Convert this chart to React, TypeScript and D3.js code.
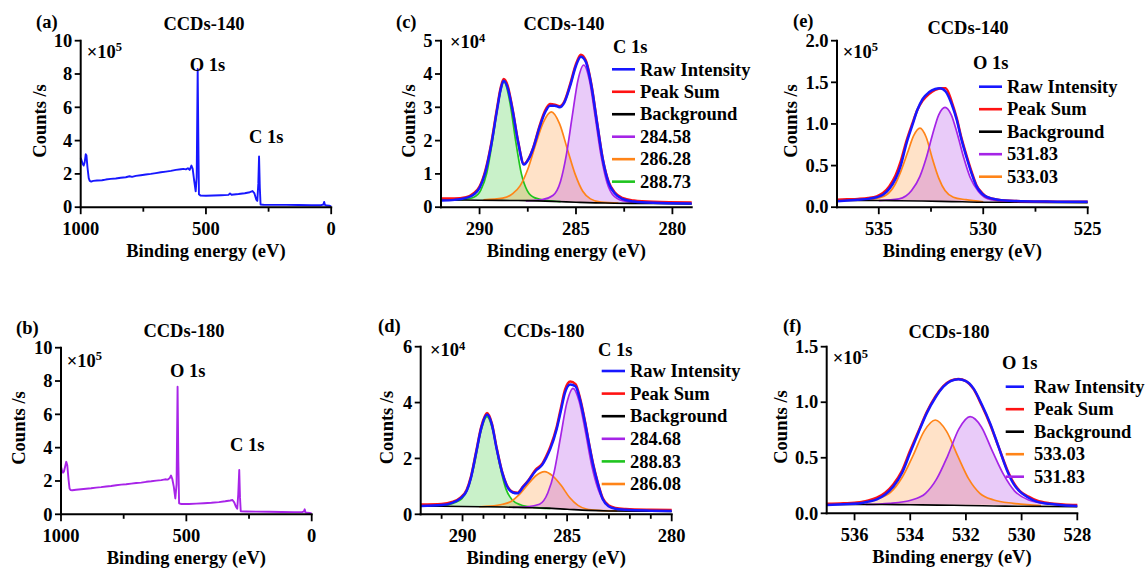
import React from "react";
import * as d3 from "d3";

type Pt = [number, number];

// ---------------- DATA ----------------
// (a) survey CCDs-140, counts ×10^5
const survey140: Pt[] = [
  [1000, 2.96], [996, 2.78], [992, 2.6], [988, 2.5], [984, 2.7], [980, 3.18], [977, 3.1], [973, 2.4],
  [968, 1.75], [964, 1.58], [958, 1.54], [950, 1.58], [935, 1.6], [915, 1.62], [900, 1.66], [880, 1.7],
  [860, 1.72], [840, 1.77], [820, 1.8], [805, 1.86], [795, 1.82], [780, 1.88], [760, 1.92], [740, 1.96],
  [720, 2.0], [700, 2.05], [680, 2.1], [660, 2.14], [640, 2.18], [620, 2.24], [600, 2.28], [590, 2.3],
  [580, 2.27], [572, 2.34], [565, 2.24], [558, 2.5], [553, 2.3], [547, 1.6], [541, 0.95], [537, 1.8],
  [533, 8.3], [530, 3.5], [528, 0.78], [522, 0.7], [500, 0.69], [470, 0.7], [440, 0.72], [410, 0.74],
  [404, 0.83], [398, 0.75], [370, 0.79], [345, 0.84], [325, 0.9], [314, 0.97], [307, 0.85], [299, 0.45],
  [295, 0.38], [291, 1.4], [288, 3.05], [285, 1.2], [282, 0.16], [270, 0.15], [230, 0.14], [180, 0.14],
  [130, 0.13], [80, 0.12], [40, 0.12], [31, 0.16], [28, 0.32], [25, 0.14], [18, 0.1], [8, 0.09], [0, 0.05],
];
// (b) survey CCDs-180, counts ×10^5
const survey180: Pt[] = [
  [1000, 2.86], [996, 2.62], [992, 2.5], [988, 2.58], [983, 2.9], [979, 3.15], [975, 2.95], [970, 2.1],
  [966, 1.55], [962, 1.46], [955, 1.44], [940, 1.47], [920, 1.5], [900, 1.53], [880, 1.56], [860, 1.6],
  [840, 1.63], [820, 1.67], [800, 1.7], [780, 1.74], [760, 1.78], [740, 1.8], [720, 1.84], [700, 1.88],
  [680, 1.9], [660, 1.95], [640, 1.98], [620, 2.02], [600, 2.05], [585, 2.1], [575, 2.08], [566, 2.18],
  [561, 2.33], [556, 2.12], [550, 1.65], [544, 0.95], [539, 1.8], [535, 7.66], [532, 3.2], [529, 0.66],
  [520, 0.62], [490, 0.62], [460, 0.64], [430, 0.66], [400, 0.69], [370, 0.73], [345, 0.78], [325, 0.83],
  [316, 0.86], [309, 0.72], [302, 0.45], [297, 0.33], [293, 1.2], [289, 2.66], [286, 1.0], [283, 0.18],
  [260, 0.17], [220, 0.16], [170, 0.15], [120, 0.14], [70, 0.13], [38, 0.13], [31, 0.17], [28, 0.3],
  [25, 0.12], [18, 0.09], [8, 0.08], [0, 0.04],
];

// (c) C 1s CCDs-140, counts ×10^4
const c140Raw: Pt[] = [
  [292, 0.2], [291.3, 0.22], [290.7, 0.28], [290.3, 0.38], [290.0, 0.58], [289.7, 1.05], [289.4, 1.85],
  [289.1, 2.9], [288.9, 3.55], [288.75, 3.8], [288.55, 3.6], [288.3, 2.95], [288.0, 1.95], [287.7, 1.28],
  [287.45, 1.45], [287.2, 1.8], [286.9, 2.38], [286.6, 2.85], [286.35, 3.05], [286.1, 3.05], [285.85, 3.0],
  [285.6, 3.15], [285.3, 3.65], [285.0, 4.25], [284.75, 4.52], [284.5, 4.38], [284.2, 3.65], [283.9, 2.5],
  [283.6, 1.4], [283.3, 0.72], [283.0, 0.42], [282.6, 0.25], [282.0, 0.17], [281.0, 0.13], [279, 0.11],
];
const c140Sum: Pt[] = [
  [292, 0.26], [291.3, 0.26], [290.7, 0.3], [290.3, 0.42], [290.0, 0.62], [289.7, 1.1], [289.4, 1.9],
  [289.1, 2.95], [288.9, 3.6], [288.75, 3.85], [288.55, 3.66], [288.3, 2.98], [288.0, 1.97], [287.7, 1.3],
  [287.45, 1.47], [287.2, 1.82], [286.9, 2.42], [286.6, 2.9], [286.35, 3.1], [286.1, 3.08], [285.85, 3.03],
  [285.6, 3.18], [285.3, 3.7], [285.0, 4.3], [284.75, 4.58], [284.5, 4.42], [284.2, 3.68], [283.9, 2.52],
  [283.6, 1.42], [283.3, 0.75], [283.0, 0.45], [282.6, 0.28], [282.0, 0.2], [281.0, 0.16], [279, 0.14],
];
const c140Bg: Pt[] = [
  [292, 0.22], [290, 0.21], [288, 0.2], [287, 0.19], [286, 0.17], [285, 0.15], [284, 0.13], [283, 0.12],
  [281, 0.11], [279, 0.1],
];
const c140Peak28458: Pt[] = [
  [287.6, 0.19], [286.8, 0.22], [286.2, 0.35], [285.8, 0.78], [285.5, 1.57], [285.2, 2.71], [284.9, 3.81],
  [284.6, 4.27], [284.3, 3.8], [284.0, 2.7], [283.7, 1.55], [283.4, 0.76], [283.0, 0.32], [282.4, 0.17],
  [281.5, 0.12],
];
const c140Peak28628: Pt[] = [
  [289.8, 0.22], [288.8, 0.27], [288.3, 0.4], [287.9, 0.64], [287.5, 1.14], [287.1, 1.87], [286.7, 2.54],
  [286.28, 2.86], [285.85, 2.5], [285.45, 1.75], [285.05, 1.0], [284.65, 0.48], [284.25, 0.25],
  [283.7, 0.15], [282.8, 0.12],
];
const c140Peak28873: Pt[] = [
  [291.5, 0.21], [290.9, 0.23], [290.3, 0.3], [289.93, 0.52], [289.63, 1.02], [289.33, 2.0], [289.03, 3.15],
  [288.73, 3.76], [288.43, 3.16], [288.13, 2.0], [287.83, 1.0], [287.53, 0.5], [287.13, 0.28], [286.5, 0.2],
  [285.8, 0.17],
];

// (d) C 1s CCDs-180, counts ×10^4
const d180Raw: Pt[] = [
  [292, 0.3], [291, 0.33], [290.5, 0.41], [290.1, 0.57], [289.8, 0.84], [289.6, 1.3], [289.35, 2.2],
  [289.1, 3.1], [288.83, 3.57], [288.6, 3.22], [288.37, 2.35], [288.1, 1.48], [287.9, 1.05], [287.6, 0.78],
  [287.38, 0.75], [287.1, 0.98], [286.85, 1.2], [286.5, 1.56], [286.2, 1.76], [286.0, 2.02], [285.8, 2.35],
  [285.5, 3.05], [285.3, 3.7], [285.1, 4.36], [284.85, 4.65], [284.6, 4.58], [284.38, 4.09], [284.15, 3.3],
  [283.95, 2.5], [283.75, 1.75], [283.55, 1.15], [283.3, 0.55], [283.0, 0.28], [282.7, 0.2], [282.2, 0.16],
  [281, 0.13], [280, 0.12],
];
const d180Sum: Pt[] = [
  [292, 0.35], [291, 0.37], [290.5, 0.44], [290.1, 0.6], [289.8, 0.88], [289.6, 1.34], [289.35, 2.24],
  [289.1, 3.15], [288.83, 3.63], [288.6, 3.26], [288.37, 2.38], [288.1, 1.5], [287.9, 1.07], [287.6, 0.8],
  [287.38, 0.77], [287.1, 1.0], [286.85, 1.22], [286.5, 1.6], [286.2, 1.8], [286.0, 2.08], [285.8, 2.42],
  [285.5, 3.12], [285.3, 3.8], [285.1, 4.46], [284.85, 4.75], [284.6, 4.66], [284.38, 4.15], [284.15, 3.34],
  [283.95, 2.53], [283.75, 1.78], [283.55, 1.18], [283.3, 0.58], [283.0, 0.31], [282.7, 0.23], [282.2, 0.19],
  [281, 0.16], [280, 0.15],
];
const d180Bg: Pt[] = [
  [292, 0.3], [290, 0.28], [289, 0.27], [288, 0.26], [287, 0.24], [286, 0.22], [285, 0.18], [284, 0.14],
  [283, 0.12], [281, 0.11], [280, 0.1],
];
const d180Peak28468: Pt[] = [
  [287.6, 0.25], [286.92, 0.27], [286.32, 0.36], [285.92, 0.77], [285.62, 1.51], [285.32, 2.74],
  [285.02, 3.97], [284.72, 4.51], [284.42, 4.04], [284.12, 2.94], [283.82, 1.74], [283.52, 0.91],
  [283.12, 0.37], [282.52, 0.17], [281.5, 0.12],
];
const d180Peak28883: Pt[] = [
  [291.8, 0.3], [291, 0.31], [290.43, 0.4], [290.03, 0.56], [289.73, 0.95], [289.43, 1.81], [289.13, 2.95],
  [288.83, 3.5], [288.53, 2.95], [288.23, 1.8], [287.93, 0.92], [287.63, 0.52], [287.23, 0.34],
  [286.6, 0.25], [285.8, 0.21],
];
const d180Peak28608: Pt[] = [
  [289.2, 0.27], [288.68, 0.29], [288.08, 0.36], [287.68, 0.46], [287.28, 0.71], [286.88, 1.07],
  [286.48, 1.39], [286.08, 1.53], [285.68, 1.37], [285.28, 1.03], [284.88, 0.6], [284.48, 0.32],
  [284.08, 0.19], [283.48, 0.14], [282.6, 0.12],
];

// (e) O 1s CCDs-140, counts ×10^5
const e140Raw: Pt[] = [
  [537, 0.072], [536.5, 0.08], [536, 0.09], [535.5, 0.1], [535.1, 0.12], [534.8, 0.15], [534.5, 0.22],
  [534.2, 0.34], [533.95, 0.5], [533.67, 0.77], [533.4, 0.98], [533.15, 1.17], [532.9, 1.3], [532.6, 1.38],
  [532.3, 1.42], [532.07, 1.43], [531.8, 1.39], [531.5, 1.23], [531.27, 1.05], [531.05, 0.82], [530.8, 0.6],
  [530.55, 0.4], [530.32, 0.25], [530.05, 0.16], [529.8, 0.12], [529.3, 0.09], [528.5, 0.075],
  [527, 0.068], [525, 0.065],
];
const e140Sum: Pt[] = [
  [537, 0.09], [536.5, 0.095], [536, 0.1], [535.5, 0.11], [535.1, 0.13], [534.8, 0.17], [534.5, 0.25],
  [534.2, 0.38], [533.95, 0.55], [533.67, 0.8], [533.4, 1.0], [533.15, 1.17], [532.9, 1.28], [532.6, 1.36],
  [532.3, 1.41], [532.0, 1.43], [531.8, 1.43], [531.5, 1.26], [531.27, 1.07], [531.05, 0.84], [530.8, 0.62],
  [530.55, 0.42], [530.32, 0.26], [530.05, 0.17], [529.8, 0.12], [529.3, 0.09], [528.5, 0.075],
  [527, 0.068], [525, 0.065],
];
const e140Bg: Pt[] = [
  [537, 0.08], [535, 0.08], [534, 0.078], [533, 0.075], [532, 0.07], [531, 0.065], [530, 0.06],
  [527, 0.058], [525, 0.055],
];
const e140Peak53183: Pt[] = [
  [535, 0.08], [534.03, 0.1], [533.43, 0.2], [533.03, 0.37], [532.73, 0.59], [532.43, 0.87], [532.13, 1.11],
  [531.83, 1.2], [531.53, 1.11], [531.23, 0.87], [530.93, 0.59], [530.63, 0.36], [530.23, 0.19],
  [529.63, 0.09], [528.5, 0.065],
];
const e140Peak53303: Pt[] = [
  [536, 0.085], [535.23, 0.1], [534.63, 0.15], [534.23, 0.27], [533.93, 0.44], [533.63, 0.65], [533.33, 0.86],
  [533.03, 0.95], [532.73, 0.84], [532.43, 0.58], [532.13, 0.35], [531.83, 0.2], [531.43, 0.12],
  [530.83, 0.09], [530, 0.065],
];

// (f) O 1s CCDs-180, counts ×10^5
const f180Raw: Pt[] = [
  [537, 0.075], [536.4, 0.082], [535.8, 0.09], [535.5, 0.105], [535.2, 0.126], [534.9, 0.17], [534.61, 0.24],
  [534.3, 0.36], [534.01, 0.54], [533.7, 0.73], [533.41, 0.9], [533.1, 1.04], [532.81, 1.14], [532.55, 1.19],
  [532.27, 1.206], [532.0, 1.19], [531.73, 1.125], [531.43, 0.98], [531.13, 0.81], [530.83, 0.6],
  [530.53, 0.39], [530.3, 0.27], [530.06, 0.195], [529.75, 0.14], [529.46, 0.105], [529, 0.085],
  [528.5, 0.072], [528, 0.066],
];
const f180Sum: Pt[] = [
  [537, 0.085], [536.4, 0.09], [535.8, 0.1], [535.5, 0.115], [535.2, 0.14], [534.9, 0.185], [534.61, 0.26],
  [534.3, 0.38], [534.01, 0.56], [533.7, 0.74], [533.41, 0.91], [533.1, 1.05], [532.81, 1.145],
  [532.55, 1.195], [532.27, 1.21], [532.0, 1.19], [531.73, 1.12], [531.43, 0.97], [531.13, 0.8],
  [530.83, 0.6], [530.53, 0.4], [530.3, 0.28], [530.06, 0.2], [529.75, 0.15], [529.46, 0.115], [529, 0.09],
  [528.5, 0.08], [528, 0.075],
];
const f180Bg: Pt[] = [
  [537, 0.08], [535, 0.079], [534, 0.077], [533, 0.074], [532, 0.07], [531, 0.066], [530, 0.063], [528, 0.06],
];
const f180Peak53303: Pt[] = [
  [536.9, 0.085], [536.0, 0.095], [535.2, 0.13], [534.7, 0.19], [534.3, 0.32], [533.9, 0.52], [533.5, 0.74],
  [533.1, 0.84], [532.7, 0.74], [532.3, 0.52], [531.9, 0.31], [531.5, 0.18], [531.0, 0.12], [530.3, 0.09],
  [529.3, 0.07],
];
const f180Peak53183: Pt[] = [
  [535.6, 0.08], [534.75, 0.09], [533.95, 0.12], [533.45, 0.18], [533.05, 0.31], [532.65, 0.52],
  [532.25, 0.76], [531.85, 0.87], [531.45, 0.78], [531.05, 0.56], [530.65, 0.35], [530.25, 0.2],
  [529.75, 0.12], [529.05, 0.085], [528.2, 0.075],
];

// ticks
const surveyXTicks = [1000, 750, 500, 250, 0];
const surveyXLabels = [1000, 500, 0];
const surveyYTicks = [0, 2, 4, 6, 8, 10];
const c140XTicks = [290, 287.5, 285, 282.5, 280];
const c1sXLabels = [290, 285, 280];
const c140YTicks = [0, 1, 2, 3, 4, 5];
const d180XTicks = [291, 290, 289, 288, 287, 286, 285, 284, 283, 282, 281, 280];
const d180YTicks = [0, 2, 4, 6];
const e140XTicks = [535, 532.5, 530, 527.5, 525];
const e140XLabels = [535, 530, 525];
const e140YTicks = [0, 0.5, 1.0, 1.5, 2.0];
const f180XTicks = [536, 534, 532, 530, 528];
const f180YTicks = [0, 0.5, 1.0, 1.5];

// legend labels
const legendC140 = ["Raw Intensity", "Peak Sum", "Background", "284.58", "286.28", "288.73"];
const legendD180 = ["Raw Intensity", "Peak Sum", "Background", "284.68", "288.83", "286.08"];
const legendE140 = ["Raw Intensity", "Peak Sum", "Background", "531.83", "533.03"];
const legendF180 = ["Raw Intensity", "Peak Sum", "Background", "533.03", "531.83"];

// ---------------- STYLE ----------------
const FONT = "'Liberation Serif', 'Times New Roman', Times, serif";
const FS = 18.5;
const BLUE = "#1717ff";
const RED = "#ff1212";
const PURPLE = "#a524e6";
const ORANGE = "#ff8418";
const GREEN = "#1fc41f";
const SURVEY_PURPLE = "#a824e8";

type Scale = d3.ScaleLinear<number, number>;

const txt: any = { fontFamily: FONT, fontWeight: 700, fontSize: FS, fill: "#000" };

function Panel(p: any) {
  const x: Scale = d3.scaleLinear().domain(p.xDomain).range([p.left, p.left + p.w]);
  const y: Scale = d3.scaleLinear().domain(p.yDomain).range([p.top + p.h, p.top]);
  const bottom = p.top + p.h;
  const labeled = (t: number) => p.xLabels.indexOf(t) >= 0;
  return (
    <g>
      {p.render(x, y)}
      {/* axes */}
      <line x1={p.left} x2={p.left + p.w} y1={bottom} y2={bottom} stroke="#000" strokeWidth={2} strokeLinecap="square" />
      <line x1={p.left} x2={p.left} y1={p.top} y2={bottom} stroke="#000" strokeWidth={2} strokeLinecap="square" />
      {p.xTicks.map((t: number) => (
        <line key={"xt" + t} x1={x(t)} x2={x(t)} y1={bottom} y2={bottom + (labeled(t) ? 7 : 4.5)} stroke="#000" strokeWidth={1.8} />
      ))}
      {p.xLabels.map((t: number) => (
        <text key={"xl" + t} x={x(t)} y={bottom + 27.5} textAnchor="middle" style={txt}>{String(t)}</text>
      ))}
      {p.yTicks.map((t: number) => (
        <g key={"yt" + t}>
          <line x1={p.left - 6} x2={p.left} y1={y(t)} y2={y(t)} stroke="#000" strokeWidth={1.8} />
          <text x={p.left - 8.5} y={y(t) + 6.2} textAnchor="end" style={txt}>{p.yFmt(t)}</text>
        </g>
      ))}
      <text x={p.left + p.w / 2} y={bottom + 50} textAnchor="middle" style={txt}>Binding energy (eV)</text>
      <text transform={`translate(${p.left - p.yLabelGap},${p.top + p.h / 2 - 3}) rotate(-90)`} textAnchor="middle" style={txt}>Counts /s</text>
      <text x={p.letterX} y={p.letterY} style={txt}>{p.letter}</text>
      <text x={p.titleX} y={p.titleY} textAnchor="middle" style={txt}>{p.title}</text>
      <text x={p.left + p.expDx} y={p.top + p.expDy} style={txt}>
        ×10<tspan dy={-6.5} fontSize={12.5}>{p.expo}</tspan>
      </text>
      {p.legend && (
        <g>
          <text x={p.legend.titleX} y={p.legend.titleY} style={txt}>{p.legend.title}</text>
          {p.legend.labels.map((lab: string, i: number) => {
            const yy = p.legend.rowY + i * p.legend.rowGap;
            return (
              <g key={"lg" + i}>
                <line x1={p.legend.lineX1} x2={p.legend.lineX2} y1={yy} y2={yy} stroke={p.legend.colors[i]} strokeWidth={2.6} />
                <text x={p.legend.textX} y={yy + 6.2} style={txt}>{lab}</text>
              </g>
            );
          })}
        </g>
      )}
    </g>
  );
}

function surveyRender(data: Pt[], color: string, peaks: { label: string; at: Pt }[]) {
  return (x: Scale, y: Scale) => {
    const line = d3.line<Pt>().x((d) => x(d[0])).y((d) => y(d[1]));
    return (
      <g>
        <path d={line(data) || ""} fill="none" stroke={color} strokeWidth={1.9} strokeLinejoin="round" />
        {peaks.map((pk) => (
          <text key={pk.label} x={x(pk.at[0])} y={y(pk.at[1])} textAnchor="middle" style={txt}>{pk.label}</text>
        ))}
      </g>
    );
  };
}

function spectrumRender(raw: Pt[], sum: Pt[], bg: Pt[], comps: { data: Pt[]; color: string }[]) {
  return (x: Scale, y: Scale) => {
    const line = d3.line<Pt>().x((d) => x(d[0])).y((d) => y(d[1])).curve(d3.curveMonotoneX);
    return (
      <g>
        {comps.map((c, i) => (
          <path key={"f" + i} d={(line(c.data) || "") + "Z"} fill={c.color} fillOpacity={0.24} stroke="none" />
        ))}
        {comps.map((c, i) => (
          <path key={"l" + i} d={line(c.data) || ""} fill="none" stroke={c.color} strokeWidth={1.7} />
        ))}
        <path d={line(bg) || ""} fill="none" stroke="#000" strokeWidth={1.6} />
        <path d={line(sum) || ""} fill="none" stroke={RED} strokeWidth={2.5} />
        <path d={line(raw) || ""} fill="none" stroke={BLUE} strokeWidth={2.5} />
      </g>
    );
  };
}

const intFmt = (t: number) => String(t);
const oneFmt = d3.format(".1f");
const lineColors6C140 = [BLUE, RED, "#000", PURPLE, ORANGE, GREEN];
const lineColors6D180 = [BLUE, RED, "#000", PURPLE, GREEN, ORANGE];
const lineColorsE140 = [BLUE, RED, "#000", PURPLE, ORANGE];
const lineColorsF180 = [BLUE, RED, "#000", ORANGE, PURPLE];

export default function App() {
  return (
    <svg width={1146} height={571} style={{ position: "absolute", left: 0, top: 0, background: "#fff" }}>
      <rect x={0} y={0} width={1146} height={571} fill="#fff" />
      {/* (a) */}
      <Panel
        left={80.7} top={40.7} w={250.5} h={166.5}
        xDomain={[1000, 0]} yDomain={[0, 10]}
        xTicks={surveyXTicks} xLabels={surveyXLabels} yTicks={surveyYTicks} yFmt={intFmt}
        letter="(a)" letterX={36} letterY={28} title="CCDs-140" titleX={204} titleY={30}
        expo="5" expDx={6} expDy={17} yLabelGap={35}
        render={surveyRender(survey140, BLUE, [
          { label: "O 1s", at: [494, 8.2] },
          { label: "C 1s", at: [259, 3.86] },
        ])}
      />
      {/* (c) */}
      <Panel
        left={441} top={40.7} w={250.7} h={166.5}
        xDomain={[292, 279]} yDomain={[0, 5]}
        xTicks={c140XTicks} xLabels={c1sXLabels} yTicks={c140YTicks} yFmt={intFmt}
        letter="(c)" letterX={396} letterY={28} title="CCDs-140" titleX={564} titleY={30}
        expo="4" expDx={9} expDy={7.5} yLabelGap={26}
        render={spectrumRender(c140Raw, c140Sum, c140Bg, [
          { data: c140Peak28873, color: GREEN },
          { data: c140Peak28628, color: ORANGE },
          { data: c140Peak28458, color: PURPLE },
        ])}
        legend={{
          title: "C 1s", titleX: 613, titleY: 52.5,
          labels: legendC140, colors: lineColors6C140,
          rowY: 69.3, rowGap: 22.47, lineX1: 612, lineX2: 635, textX: 640,
        }}
      />
      {/* (e) */}
      <Panel
        left={837} top={40.7} w={250.7} h={166.5}
        xDomain={[537, 525]} yDomain={[0, 2]}
        xTicks={e140XTicks} xLabels={e140XLabels} yTicks={e140YTicks} yFmt={oneFmt}
        letter="(e)" letterX={793} letterY={27} title="CCDs-140" titleX={968} titleY={33.5}
        expo="5" expDx={5.7} expDy={17} yLabelGap={40.3}
        render={spectrumRender(e140Raw, e140Sum, e140Bg, [
          { data: e140Peak53303, color: ORANGE },
          { data: e140Peak53183, color: PURPLE },
        ])}
        legend={{
          title: "O 1s", titleX: 973, titleY: 69.3,
          labels: legendE140, colors: lineColorsE140,
          rowY: 86.7, rowGap: 22.5, lineX1: 979, lineX2: 1002, textX: 1007,
        }}
      />
      {/* (b) */}
      <Panel
        left={61} top={347.7} w={250.7} h={166.6}
        xDomain={[1000, 0]} yDomain={[0, 10]}
        xTicks={surveyXTicks} xLabels={surveyXLabels} yTicks={surveyYTicks} yFmt={intFmt}
        letter="(b)" letterX={16} letterY={334} title="CCDs-180" titleX={184} titleY={337}
        expo="5" expDx={5.7} expDy={18.8} yLabelGap={36}
        render={surveyRender(survey180, SURVEY_PURPLE, [
          { label: "O 1s", at: [494.6, 8.22] },
          { label: "C 1s", at: [257, 3.82] },
        ])}
      />
      {/* (d) */}
      <Panel
        left={420.7} top={346.7} w={251} h={167.6}
        xDomain={[292, 280]} yDomain={[0, 6]}
        xTicks={d180XTicks} xLabels={c1sXLabels} yTicks={d180YTicks} yFmt={intFmt}
        letter="(d)" letterX={378} letterY={332} title="CCDs-180" titleX={544} titleY={336.7}
        expo="4" expDx={9.3} expDy={9.3} yLabelGap={27.7}
        render={spectrumRender(d180Raw, d180Sum, d180Bg, [
          { data: d180Peak28883, color: GREEN },
          { data: d180Peak28608, color: ORANGE },
          { data: d180Peak28468, color: PURPLE },
        ])}
        legend={{
          title: "C 1s", titleX: 598, titleY: 356,
          labels: legendD180, colors: lineColors6D180,
          rowY: 371, rowGap: 22.6, lineX1: 601.7, lineX2: 625, textX: 630,
        }}
      />
      {/* (f) */}
      <Panel
        left={826.7} top={346.7} w={250.6} h={166.6}
        xDomain={[537, 528]} yDomain={[0, 1.5]}
        xTicks={f180XTicks} xLabels={f180XTicks} yTicks={f180YTicks} yFmt={oneFmt}
        letter="(f)" letterX={783} letterY={332} title="CCDs-180" titleX={949} titleY={338}
        expo="5" expDx={6} expDy={17.3} yLabelGap={40}
        render={spectrumRender(f180Raw, f180Sum, f180Bg, [
          { data: f180Peak53303, color: ORANGE },
          { data: f180Peak53183, color: PURPLE },
        ])}
        legend={{
          title: "O 1s", titleX: 1002, titleY: 369.3,
          labels: legendF180, colors: lineColorsF180,
          rowY: 386.7, rowGap: 22.5, lineX1: 1005.7, lineX2: 1024, textX: 1034,
        }}
      />
    </svg>
  );
}
